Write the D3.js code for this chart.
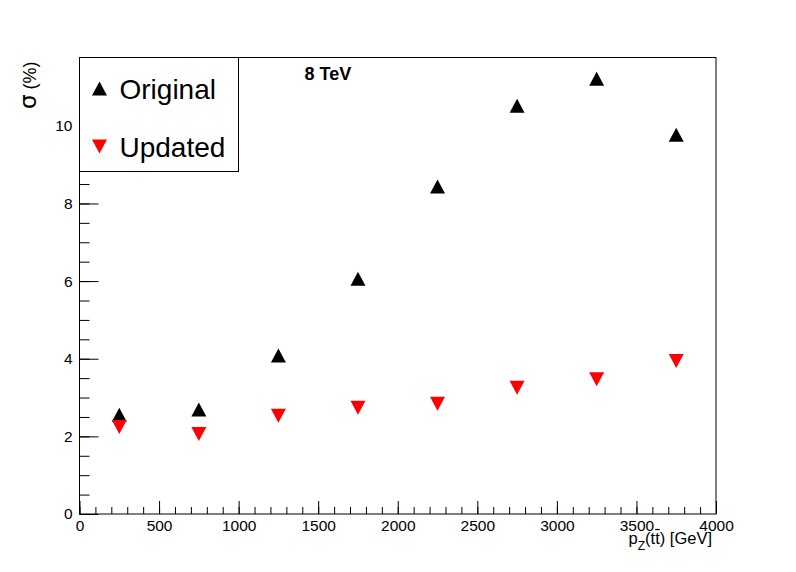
<!DOCTYPE html>
<html>
<head>
<meta charset="utf-8">
<script src="https://cdn.jsdelivr.net/npm/d3@7"></script>
<style>
  body { margin: 0; background: #fff; }
  text { font-family: "Liberation Sans", Arial, sans-serif; }
</style>
</head>
<body>
<svg id="chart"></svg>
<script>
// bin centres in GeV
var binCenters = [250, 750, 1250, 1750, 2250, 2750, 3250, 3750];
// relative uncertainty in %
var original = [2.56, 2.69, 4.08, 6.06, 8.44, 10.52, 11.21, 9.77];
var updated = [2.24, 2.06, 2.53, 2.74, 2.84, 3.25, 3.47, 3.94];
var xTicks = [0, 500, 1000, 1500, 2000, 2500, 3000, 3500, 4000];
var yTicks = [0, 2, 4, 6, 8, 10];
var seriesNames = ["Original", "Updated"];

(function () {
    var W = 796, H = 572;
    var margin = { top: 57.5, right: 80, bottom: 58, left: 79.5 },
        width = W - margin.left - margin.right,
        height = H - margin.top - margin.bottom;

    var svg = d3.select("#chart")
        .attr("width", W)
        .attr("height", H)
        .append("g")
        .attr("transform", "translate(" + margin.left + "," + margin.top + ")");

    var x = d3.scaleLinear().domain([0, 4000]).range([0, width]);
    var y = d3.scaleLinear().domain([0, 11.76]).range([height, 0]);

    // minor ticks
    svg.append("g")
        .attr("transform", "translate(0," + height + ")")
        .call(d3.axisBottom(x).tickValues(d3.range(0, 4001, 100)).tickSize(-7).tickFormat(""))
        .call(function (g) { g.select(".domain").remove(); });
    svg.append("g")
        .call(d3.axisLeft(y).tickValues(d3.range(0, 11.6, 0.5)).tickSize(-10).tickFormat(""))
        .call(function (g) { g.select(".domain").remove(); });

    // major ticks + labels
    var xa = svg.append("g")
        .attr("transform", "translate(0," + height + ")")
        .call(d3.axisBottom(x).tickValues(xTicks).tickSize(-13).tickPadding(6).tickFormat(d3.format("d")));
    xa.select(".domain").remove();
    xa.selectAll("text").style("font-size", "15.5px").attr("fill", "#000");

    var ya = svg.append("g")
        .call(d3.axisLeft(y).tickValues(yTicks).tickSize(-19).tickPadding(7).tickFormat(d3.format("d")));
    ya.select(".domain").remove();
    ya.selectAll("text").style("font-size", "15.5px").attr("fill", "#000");

    svg.selectAll(".tick line").attr("stroke", "#000");

    // frame
    svg.append("rect")
        .attr("width", width).attr("height", height)
        .attr("fill", "none").attr("stroke", "#000").attr("stroke-width", 1);

    function upTri(cx, cy) {
        return "M" + (cx - 7.5) + "," + (cy + 7) + "L" + (cx + 7.5) + "," + (cy + 7) + "L" + cx + "," + (cy - 7) + "Z";
    }
    function downTri(cx, cy) {
        return "M" + (cx - 7.5) + "," + (cy - 7) + "L" + (cx + 7.5) + "," + (cy - 7) + "L" + cx + "," + (cy + 7) + "Z";
    }

    svg.selectAll(".orig")
        .data(original)
        .enter().append("path")
        .attr("class", "orig")
        .attr("d", function (d, i) { return upTri(x(binCenters[i]), y(d)); })
        .attr("fill", "#000");

    svg.selectAll(".upd")
        .data(updated)
        .enter().append("path")
        .attr("class", "upd")
        .attr("d", function (d, i) { return downTri(x(binCenters[i]), y(d)); })
        .attr("fill", "#ff0000");

    // legend
    var leg = svg.append("g");
    leg.append("rect")
        .attr("x", 0).attr("y", 0).attr("width", 159).attr("height", 114)
        .attr("fill", "#fff").attr("stroke", "#000");
    leg.append("path").attr("d", upTri(20, 31)).attr("fill", "#000");
    leg.append("path").attr("d", downTri(20, 89)).attr("fill", "#ff0000");
    leg.selectAll(".legtext")
        .data(seriesNames)
        .enter().append("text")
        .attr("x", 40)
        .attr("y", function (d, i) { return 31 + i * 58; })
        .attr("dy", "0.36em")
        .style("font-size", "28px")
        .text(function (d) { return d; });

    // energy label
    svg.append("text")
        .attr("x", 225).attr("y", 22)
        .style("font-size", "18px").style("font-weight", "bold")
        .text("8 TeV");

    // axis titles
    var titleY = height + 29.5;
    var xt = svg.append("text")
        .attr("x", width - 4).attr("y", titleY)
        .attr("text-anchor", "end")
        .style("font-size", "16.5px");
    xt.append("tspan").text("p");
    xt.append("tspan").attr("dy", 6).style("font-size", "12px").text("Z");
    xt.append("tspan").attr("dy", -6).text("(tt) [GeV]");
    // bar over the second t
    var p0 = xt.node().getStartPositionOfChar(4),
        p1 = xt.node().getEndPositionOfChar(4);
    svg.append("line")
        .attr("x1", p0.x).attr("x2", p1.x)
        .attr("y1", titleY - 14).attr("y2", titleY - 14)
        .attr("stroke", "#000").attr("stroke-width", 1.2);

    var yt = svg.append("text")
        .attr("transform", "translate(" + (-44) + ",4) rotate(-90)")
        .attr("text-anchor", "end")
        .style("font-size", "18px");
    yt.append("tspan").style("font-family", "DejaVu Sans").style("font-size", "23px").text("σ");
    yt.append("tspan").text(" (%)");
})();
</script>
</body>
</html>
